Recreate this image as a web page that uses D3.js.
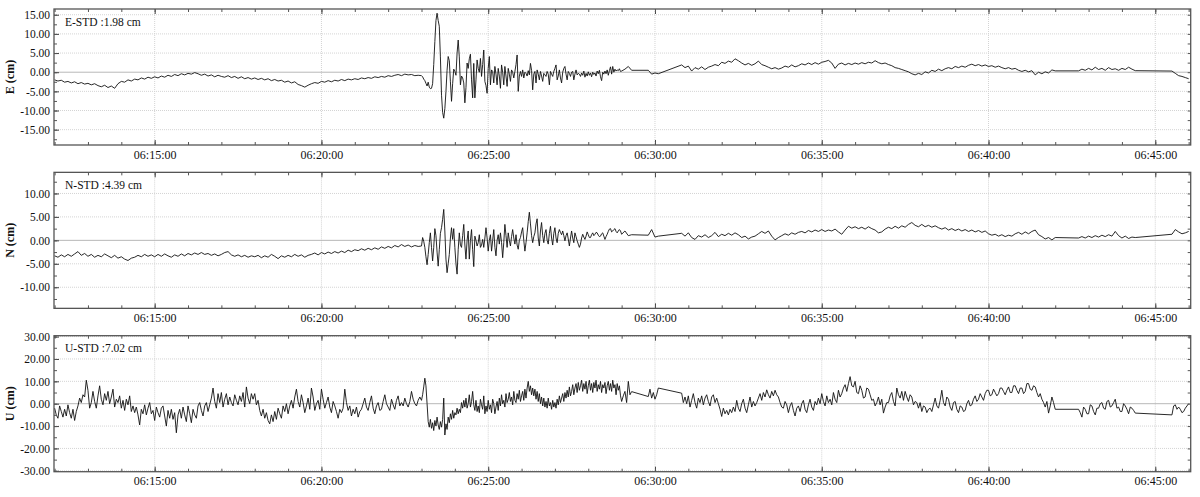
<!DOCTYPE html>
<html>
<head>
<meta charset="utf-8">
<script src="https://cdn.jsdelivr.net/npm/d3@7"></script>
<style>
  html, body { margin: 0; padding: 0; background: #fff; }
  svg text { font-family: "Liberation Serif", "Times New Roman", serif; fill: #111; }
</style>
</head>
<body>
<svg id="chart" width="1200" height="497"></svg>
<script>
// ---------------- DATA ----------------
// every series starts at 06:12:00; sampling blocks given as [step in s, number of samples]
const startClock = [6, 12, 0];
const samplingEN = [[6, 110], [2, 180], [6, 171]];
const samplingU  = [[3, 220], [2, 180], [3, 341]];

const stdLabels = ["E-STD :1.98 cm", "N-STD :4.39 cm", "U-STD :7.02 cm"];
const axisTitles = ["E (cm)", "N (cm)", "U (cm)"];
const yTicksE = [15, 10, 5, 0, -5, -10, -15];
const yTicksN = [10, 5, 0, -5, -10];
const yTicksU = [30, 20, 10, 0, -10, -20, -30];
const yRangeE = [-19, 16.5];
const yRangeN = [-14.5, 14.5];
const yRangeU = [-30.4, 30.4];

// E component (cm), null = missing epoch
const valuesE = [
 -2.0,-2.3,-2.1,-2.6,-2.4,-2.8,-2.5,-3.0,-2.7,-3.1,
 -2.9,-3.3,-3.0,-3.5,-3.8,-3.4,-4.0,-3.6,-4.2,-3.0,
 -2.4,-2.6,-2.0,-2.3,-1.8,-2.0,-1.5,-1.8,-1.3,-1.6,
 -1.2,-1.5,-1.0,-1.3,-0.8,-1.1,-0.6,-0.9,-0.4,-0.7,
 -0.3,-0.5,-0.1,-0.4,-0.8,-0.5,-1.0,-0.7,-1.2,-0.8,
 -1.1,-1.3,-0.9,-1.4,-1.1,-1.6,-1.2,-1.7,-1.4,-1.8,
 -1.5,-1.9,-1.6,-2.0,-1.7,-2.2,-1.9,-2.3,-2.1,-2.6,
 -2.3,-2.8,-2.5,-3.2,-3.5,-3.9,-3.4,-3.0,-2.7,-2.9,
 -2.4,-2.6,-2.2,-2.5,-2.1,-2.3,-1.9,-2.2,-1.8,-2.0,
 -1.7,-1.9,-1.5,-1.7,-1.4,-1.6,-1.2,-1.4,-1.1,-1.3,
 -0.9,-1.1,-0.8,-0.6,-0.9,-0.5,-0.7,-0.6,-0.9,-0.8,
 // 2 s block
 -0.9,-1.2,-1.8,-2.2,-2.9,-3.6,-2.6,-3.9,-4.3,-4.2,
 -3.0,2.0,8.0,13.5,15.4,13.5,12.0,4.0,-6.0,-10.5,
 -12.0,-9.5,-5.0,0.5,4.1,3.0,-2.5,-7.6,-3.0,0.8,
 0.2,-0.8,5.0,8.4,4.0,-3.3,-1.0,-1.5,-2.8,-8.0,
 -4.0,2.4,1.0,3.5,4.7,-2.0,-6.7,2.3,-6.7,-2.0,
 3.2,1.0,0.0,3.6,-1.1,2.0,5.8,-2.4,-3.5,-5.5,
 1.0,4.1,-3.3,0.6,0.2,-2.8,1.5,-0.5,-3.3,1.0,
 -1.0,-4.2,1.9,0.0,-3.3,1.5,-1.0,-3.7,1.0,-0.5,
 -2.4,0.6,0.0,-1.5,0.2,2.0,4.5,-5.0,-1.0,0.2,
 -1.1,0.6,-1.5,0.0,-0.3,-1.0,0.4,-0.7,2.3,0.5,
 -4.6,-0.5,0.2,-2.8,0.6,-0.5,-2.0,0.2,-1.0,-2.4,
 -0.3,-0.7,-1.1,0.2,-0.5,-3.3,0.2,-0.5,-1.1,0.2,
 1.0,1.9,-2.0,-1.0,0.6,-1.5,-2.8,0.0,1.0,1.5,
 -0.5,-2.0,0.2,-0.3,-1.1,0.0,0.2,-2.0,-0.5,0.6,
 -0.7,-0.3,-0.5,-1.1,-0.2,-0.8,0.3,-1.3,-0.3,-1.0,
 0.1,-0.8,-0.2,-1.2,0.0,-0.6,-0.2,-1.0,0.3,-0.4,
 0.5,-1.2,-2.2,0.0,-0.5,0.3,-0.4,0.6,-0.8,0.4,
 1.4,-0.5,1.5,0.0,0.8,0.3,0.6,0.4,0.9,0.2,
 // 6 s block
 0.3,0.8,1.5,0.5,null,null,null,null,0.5,-0.5,
 -0.2,-0.4,null,null,null,null,null,null,1.9,1.2,
 1.6,0.3,1.2,0.8,1.4,0.7,1.3,1.6,2.0,1.7,
 2.6,2.3,2.9,2.6,3.5,3.0,2.4,1.9,2.3,1.8,
 2.2,2.9,2.0,1.7,1.3,0.9,1.2,0.8,1.1,1.6,
 1.3,1.9,1.4,1.7,2.2,1.9,2.4,2.0,2.5,2.1,
 2.6,2.8,3.1,2.4,1.0,2.1,2.4,1.9,2.3,2.0,
 2.4,2.1,2.5,2.2,2.6,2.4,3.0,2.5,2.2,2.4,
 2.0,1.7,1.2,1.0,0.7,0.4,0.1,-0.4,-0.7,-0.3,
 -0.6,0.1,-0.2,0.5,0.2,0.8,0.4,0.9,1.2,0.9,
 1.5,1.2,1.6,1.3,1.8,2.1,1.7,2.0,1.6,1.9,
 1.5,1.7,1.3,1.6,1.2,0.9,1.2,0.8,1.0,0.5,
 0.2,0.5,0.1,0.4,-0.7,0.0,-0.4,0.1,-0.2,0.6,
 0.35,null,null,null,null,null,null,0.35,0.8,0.5,
 1.0,0.6,1.3,0.7,1.0,0.5,1.2,0.7,0.9,0.5,
 1.0,0.7,1.3,0.8,0.4,null,null,null,null,null,
 null,null,null,null,null,0.3,-0.3,-0.9,-1.1,-1.4,
 -1.7
];

// N component (cm)
const valuesN = [
 -3.3,-3.6,-3.1,-3.5,-3.0,-3.4,-2.9,-2.4,-3.2,-2.8,
 -3.4,-3.0,-3.6,-3.2,-3.5,-2.9,-3.3,-3.7,-3.2,-3.8,
 -3.5,-4.0,-4.3,-3.8,-3.6,-3.2,-3.5,-3.0,-3.4,-3.1,
 -3.5,-3.0,-3.4,-2.9,-3.3,-3.6,-3.1,-3.4,-2.9,-3.3,
 -2.8,-3.1,-2.7,-3.0,-2.6,-3.0,-2.8,-3.2,-2.9,-3.3,
 -3.0,-2.6,-2.4,-3.1,-3.4,-3.1,-3.5,-3.2,-3.6,-3.3,
 -3.5,-3.2,-3.7,-3.3,-3.6,-3.0,-3.4,-3.9,-3.3,-3.6,
 -3.2,-3.5,-3.0,-3.4,-3.1,-3.6,-3.2,-3.0,-2.7,-3.1,
 -2.6,-2.9,-2.5,-2.8,-2.4,-2.7,-2.3,-2.6,-2.1,-2.4,
 -2.0,-2.2,-1.8,-2.1,-1.7,-2.0,-1.6,-1.9,-1.4,-1.7,
 -1.3,-1.6,-1.1,-1.4,-0.9,-1.3,-1.0,-1.4,-1.1,-1.3,
 // 2 s block
 -1.2,0.6,-0.2,-1.5,-3.5,-5.2,-3.0,-0.5,1.6,-1.5,
 -4.4,-1.5,2.5,1.0,-2.5,-5.5,-2.0,1.5,2.7,4.5,
 6.6,2.0,-4.0,-6.9,-5.0,-3.0,0.5,2.7,0.2,2.5,
 -1.5,-5.0,-7.2,-2.0,1.6,-1.0,-1.5,1.0,3.4,-1.0,
 -4.0,0.0,2.0,-4.0,0.0,2.3,-2.0,-5.6,0.9,0.0,
 -1.2,-0.5,1.2,-1.5,-1.0,0.2,-1.5,0.5,2.7,0.5,
 -2.3,0.0,1.2,-2.3,0.0,2.3,-1.5,-3.3,0.0,1.2,
 -0.8,1.6,-0.5,-3.7,-0.5,3.4,1.0,-1.5,1.6,0.0,
 -1.2,0.8,2.3,0.5,-0.8,1.2,-1.0,-1.9,0.0,0.6,
 1.8,2.7,0.0,-2.3,-0.5,1.6,4.0,6.0,3.5,1.0,
 -0.5,0.8,1.6,3.5,4.6,0.5,-1.2,2.0,3.8,1.0,
 -0.5,1.5,2.3,0.0,-0.8,1.5,3.0,0.5,-1.0,1.5,
 2.7,0.5,-0.5,1.5,2.3,1.7,1.2,2.0,1.0,-0.1,
 1.0,1.6,0.3,-1.2,0.5,2.0,0.5,-0.5,1.6,0.8,
 -0.1,-0.8,-1.5,-0.8,0.5,1.3,0.7,0.2,0.9,1.8,
 1.2,0.6,0.6,1.2,1.6,1.0,1.3,1.7,1.6,1.1,
 0.8,0.9,1.4,1.6,0.9,0.2,0.8,1.3,1.9,2.4,
 2.5,1.8,2.0,2.3,2.5,1.9,1.6,2.0,2.3,2.0,
 // 6 s block
 1.3,2.0,1.0,1.2,null,null,null,null,1.1,2.3,
 0.7,0.9,null,null,null,null,null,null,1.5,0.9,
 1.6,0.6,0.2,1.0,0.7,1.2,0.6,1.0,1.7,0.8,
 1.3,1.0,1.5,1.1,1.6,1.2,0.6,0.9,0.3,0.7,
 0.9,1.4,1.9,1.5,2.0,0.9,0.1,0.6,1.0,1.4,
 1.1,1.6,1.3,1.7,1.9,1.6,2.1,1.8,2.2,1.9,
 2.3,1.9,2.2,2.0,2.4,1.8,1.3,2.2,3.0,2.6,
 2.9,2.5,2.8,2.4,2.9,2.5,2.2,1.6,1.8,2.4,
 2.8,2.5,3.0,2.6,3.1,2.8,3.4,3.8,3.2,2.9,
 3.4,2.9,3.2,2.8,3.1,2.7,2.4,2.7,2.2,2.5,
 2.1,2.4,2.0,2.3,1.9,2.2,1.8,2.1,1.7,2.0,
 1.4,1.1,1.3,0.9,1.2,0.8,1.1,0.9,1.4,1.7,
 1.3,1.8,1.4,1.9,2.2,1.2,0.8,0.3,0.6,0.1,
 0.6,null,null,null,null,null,null,0.5,0.8,0.5,
 0.9,0.6,1.0,0.7,1.1,0.8,1.2,0.9,1.9,1.0,
 0.5,0.9,0.4,0.7,0.6,null,null,null,null,null,
 null,null,null,null,null,1.3,2.3,1.8,1.4,1.6,
 1.9
];

// U component (cm)
const valuesU = [
 // 3 s block
 -2.0,-5.0,-6.5,-1.0,-3.5,-6.0,-2.5,-5.5,-0.5,-4.0,
 -6.5,-2.5,-7.5,-3.5,-1.0,2.5,0.5,4.0,3.0,10.5,
 6.0,-2.0,0.5,5.5,1.0,-2.0,3.5,8.0,2.0,-0.5,
 4.5,1.5,5.5,0.0,3.0,6.5,-1.5,2.0,0.5,3.5,
 -2.0,1.5,-3.0,2.0,-0.5,3.5,-3.5,-1.0,-4.0,-1.5,
 -5.0,-9.5,-2.5,-4.5,-0.5,-5.0,-2.0,0.5,-4.5,-3.0,
 -7.5,-1.5,-4.0,-6.0,-2.0,-1.0,-5.5,-10.0,-3.0,-6.5,
 -2.5,-7.0,-4.0,-13.0,-5.0,-2.5,-6.5,-1.5,-5.0,-8.0,
 -1.0,-4.5,-8.5,-2.5,-5.0,-6.5,-1.0,0.5,-3.0,-5.5,
 -1.0,0.5,-3.5,-0.5,2.5,7.0,1.0,-2.0,4.5,0.5,
 5.0,-1.5,2.0,4.5,-0.5,3.0,0.5,-1.0,4.0,1.5,
 -0.5,3.5,1.0,5.0,-1.5,7.5,2.5,0.0,4.5,2.0,
 4.5,-0.5,1.5,-3.0,-5.5,-2.5,-6.5,-4.0,-7.5,-9.0,
 -5.0,-8.0,-3.5,-7.0,-2.0,-4.5,-6.5,-1.0,-3.5,0.0,
 -4.5,-1.0,1.5,-2.0,3.0,6.5,1.0,-1.5,4.0,0.5,
 -4.0,-1.0,2.5,-2.5,7.0,3.0,-3.0,0.0,1.5,-2.5,
 6.5,2.0,-2.0,0.5,3.0,-1.5,-4.0,1.0,-1.0,-3.5,
 -6.5,-2.5,-4.0,-2.0,6.5,0.5,-3.0,-1.0,-5.5,-2.5,
 -4.5,-1.5,-6.0,-3.5,-2.5,0.0,2.5,-1.5,-3.0,0.5,
 3.5,-2.0,-4.5,-1.0,0.5,-3.0,-2.5,1.0,4.0,0.0,
 -1.5,-3.0,2.0,-0.5,-2.5,1.5,3.5,-1.0,0.5,-1.0,
 2.5,0.0,-1.5,1.0,5.5,2.0,0.0,-1.0,1.5,3.0,
 // 2 s block
 1.5,4.0,7.5,11.4,8.0,0.0,-8.0,-10.5,-7.0,-11.0,
 -8.5,-12.0,-7.5,-10.0,-6.0,-9.5,-11.5,-8.0,-10.5,-7.0,
 2.5,-14.0,-9.0,-11.5,-6.0,-8.5,-4.5,-7.0,-3.0,-6.5,
 -4.0,-5.0,-2.0,-4.5,-2.5,-4.0,0.5,-2.0,1.5,-1.5,
 2.5,-2.0,0.0,4.0,-1.5,1.0,5.5,-0.5,-3.0,1.5,
 -3.5,-1.0,-4.0,2.0,-0.5,-2.5,3.5,-4.5,-1.0,-3.5,
 1.5,-2.5,-0.5,-4.0,2.0,0.0,-4.5,-1.5,1.0,-3.0,
 2.5,-1.0,4.0,0.0,1.5,-1.5,4.5,0.5,2.0,5.0,
 1.0,3.0,-0.5,5.5,1.5,0.5,4.5,2.0,6.0,1.0,
 3.5,5.5,1.5,6.5,2.5,7.0,10.0,5.5,8.0,4.0,
 7.0,3.5,6.5,2.0,5.5,1.0,4.5,0.0,3.0,-1.0,
 2.5,-1.5,1.0,-2.0,2.5,-1.0,0.5,-2.5,1.5,-1.5,
 0.5,-2.0,2.0,-0.5,3.5,0.5,2.5,4.5,1.0,5.0,
 2.5,6.0,3.0,7.5,3.5,5.5,8.5,4.0,7.0,9.0,
 5.0,9.5,6.0,8.0,10.5,5.5,9.0,6.5,10.0,4.5,
 8.0,10.5,6.0,9.0,5.0,9.5,7.0,10.5,5.5,8.5,
 6.5,10.0,5.0,8.5,7.0,9.5,4.5,8.0,10.0,6.0,
 9.0,5.5,10.5,7.0,8.5,4.0,9.0,6.0,8.0,3.5,
 // 3 s block
 1.0,3.5,5.5,0.5,10.0,4.0,5.4,null,null,null,
 null,null,null,null,null,null,3.2,6.5,2.5,5.0,
 2.0,4.0,7.0,null,null,null,null,null,null,null,
 null,null,null,null,null,null,4.7,0.5,3.0,0.0,
 3.5,-1.5,1.5,4.5,0.5,-2.0,2.5,0.5,3.5,-0.5,
 2.5,4.0,1.0,-1.0,3.0,4.0,0.5,2.5,0.0,-2.5,
 -5.7,-2.0,-4.5,-3.0,-5.0,-2.5,-4.0,-1.5,-3.5,1.5,
 -2.0,-3.5,0.0,2.0,-2.0,-4.0,-0.5,3.0,-1.5,1.0,
 -1.0,0.5,2.5,4.5,1.5,5.0,3.0,6.2,4.0,2.5,
 5.5,3.5,6.0,4.0,3.0,0.5,-1.5,-2.0,1.0,-0.5,
 -4.0,-1.0,0.5,-3.0,-5.5,-2.0,-1.0,-3.5,0.0,1.5,
 -2.5,-4.0,-0.5,2.0,-1.5,-3.0,1.0,-0.5,2.5,0.0,
 4.5,1.0,-1.0,3.5,0.5,2.0,-0.5,5.0,2.0,0.5,
 6.0,3.0,4.5,7.0,8.5,5.5,9.0,12.1,8.0,7.5,
 10.0,5.0,4.5,8.0,6.0,2.5,3.0,7.0,6.5,4.0,
 1.5,2.0,-1.0,0.5,3.0,-0.5,2.0,-4.2,-1.5,0.5,
 0.5,3.5,5.0,1.0,-1.0,7.0,4.0,2.5,5.5,1.5,
 5.5,3.0,1.0,4.0,3.0,-0.5,1.0,0.5,-2.0,0.5,
 -3.5,-1.0,-1.5,-4.0,-2.5,-2.0,-3.5,-0.5,2.5,-1.0,
 -2.0,1.5,6.0,0.5,-1.0,3.0,2.0,-1.5,-3.0,0.5,
 1.0,-2.5,-4.0,-1.0,-1.5,-3.5,-3.0,0.0,1.5,-1.0,
 -0.5,2.0,3.5,1.0,2.0,4.5,3.0,1.5,4.5,6.0,
 6.0,3.5,4.0,6.5,5.0,3.5,4.5,7.0,7.0,5.5,
 4.0,6.0,7.5,5.0,5.0,8.0,8.0,6.0,4.5,7.0,
 7.0,4.5,5.5,9.0,9.0,6.5,6.0,8.0,7.5,5.0,
 3.0,4.5,2.0,0.5,-1.5,1.0,-4.2,-1.0,3.0,0.5,
 -2.5,null,null,null,null,null,null,null,null,null,
 null,null,null,null,-2.5,-4.0,-6.0,-1.5,-2.5,-4.5,
 -4.5,-0.5,-1.0,-3.5,-5.0,-2.0,-2.0,0.0,0.5,-2.0,
 -2.5,1.0,1.5,-1.5,-1.0,0.5,2.0,-2.0,-1.5,-3.5,
 -3.5,0.0,-1.0,-2.5,-4.5,-1.5,-2.0,-3.0,-4.2,null,
 null,null,null,null,null,null,null,null,null,null,
 null,null,null,null,null,null,null,null,null,null,
 -5.0,-1.0,-0.5,-2.5,-1.5,-2.5,-4.0,-3.5,-2.0,-1.0,
 0.0
];

// ---------------- BUILD ----------------
const base = new Date(2000, 0, 1, startClock[0], startClock[1], startClock[2]);
function buildTimes(blocks) {
  const out = [];
  let t = 0;
  blocks.forEach(([step, count]) => {
    for (let i = 0; i < count; i++) { out.push(new Date(base.getTime() + t * 1000)); t += step; }
  });
  return out;
}

const svg = d3.select("#chart");
const left = 54, right = 1190.7;
const panelH = 136, panelTop0 = 9, panelGap = 163.35;

const x = d3.scaleTime()
  .domain([new Date(base.getTime() - 1100), new Date(base.getTime() + 2043700)])
  .range([left, right]);

const panels = [
  { values: valuesE, times: buildTimes(samplingEN), ticks: yTicksE, range: yRangeE, minor: 2.5 },
  { values: valuesN, times: buildTimes(samplingEN), ticks: yTicksN, range: yRangeN, minor: 2.5 },
  { values: valuesU, times: buildTimes(samplingU), ticks: yTicksU, range: yRangeU, minor: 5 }
];

const fmt = v => v.toFixed(2);
const fontStack = '"Liberation Serif", "Times New Roman", serif';

panels.forEach((p, i) => {
  const top = panelTop0 + i * panelGap;
  const bottom = top + panelH;
  const y = d3.scaleLinear().domain(p.range).range([bottom, top]);
  const g = svg.append("g");

  // grid
  const majorTimes = x.ticks(d3.timeMinute.every(5));
  g.append("g").selectAll("line").data(majorTimes).join("line")
    .attr("x1", d => x(d)).attr("x2", d => x(d))
    .attr("y1", top).attr("y2", bottom)
    .attr("stroke", "#d4d4d4").attr("stroke-width", 1).attr("stroke-dasharray", "1,1");
  g.append("g").selectAll("line").data(p.ticks.filter(v => v !== 0)).join("line")
    .attr("x1", left).attr("x2", right)
    .attr("y1", d => y(d)).attr("y2", d => y(d))
    .attr("stroke", "#d4d4d4").attr("stroke-width", 1).attr("stroke-dasharray", "1,1");
  g.append("line")
    .attr("x1", left).attr("x2", right).attr("y1", y(0)).attr("y2", y(0))
    .attr("stroke", "#b8b8b8").attr("stroke-width", 1);

  // data line
  const pts = p.times.map((t, k) => ({ t, v: p.values[k] })).filter(d => d.v !== null && d.v !== undefined);
  g.append("path").datum(pts)
    .attr("fill", "none").attr("stroke", "#111").attr("stroke-width", 0.9)
    .attr("stroke-linejoin", "round")
    .attr("d", d3.line().x(d => x(d.t)).y(d => y(d.v)));

  // axes
  const bottomAxis = d3.axisBottom(x).ticks(d3.timeMinute.every(5))
    .tickFormat(d3.timeFormat("%H:%M:%S")).tickSize(-5).tickPadding(5);
  const ga = g.append("g").attr("transform", `translate(0,${bottom})`).call(bottomAxis);
  ga.select(".domain").remove();
  ga.selectAll("text").attr("font-size", 12).attr("font-family", fontStack).attr("fill", "#111");
  ga.selectAll("line").attr("stroke", "#444");

  const minorB = d3.axisBottom(x).ticks(d3.timeMinute.every(1)).tickFormat("").tickSize(-3);
  const gm = g.append("g").attr("transform", `translate(0,${bottom})`).call(minorB);
  gm.select(".domain").remove(); gm.selectAll("line").attr("stroke", "#555");

  const topAxis = d3.axisTop(x).ticks(d3.timeMinute.every(5)).tickFormat("").tickSize(-5);
  const gt = g.append("g").attr("transform", `translate(0,${top})`).call(topAxis);
  gt.select(".domain").remove(); gt.selectAll("line").attr("stroke", "#444");
  const minorT = d3.axisTop(x).ticks(d3.timeMinute.every(1)).tickFormat("").tickSize(-3);
  const gmt = g.append("g").attr("transform", `translate(0,${top})`).call(minorT);
  gmt.select(".domain").remove(); gmt.selectAll("line").attr("stroke", "#555");

  const leftAxis = d3.axisLeft(y).tickValues(p.ticks).tickFormat(fmt).tickSize(-5).tickPadding(4);
  const gl = g.append("g").attr("transform", `translate(${left},0)`).call(leftAxis);
  gl.select(".domain").remove();
  gl.selectAll("text").attr("font-size", 11.5).attr("font-family", fontStack).attr("fill", "#111");
  gl.selectAll("line").attr("stroke", "#444");

  const minorVals = d3.range(Math.ceil(p.range[0] / p.minor) * p.minor, p.range[1] + 1e-9, p.minor);
  const minorL = d3.axisLeft(y).tickValues(minorVals).tickFormat("").tickSize(-3);
  const gml = g.append("g").attr("transform", `translate(${left},0)`).call(minorL);
  gml.select(".domain").remove(); gml.selectAll("line").attr("stroke", "#555");
  const rightAxis = d3.axisRight(y).tickValues(minorVals).tickFormat("").tickSize(-3);
  const gr = g.append("g").attr("transform", `translate(${right},0)`).call(rightAxis);
  gr.select(".domain").remove(); gr.selectAll("line").attr("stroke", "#555");

  // frame
  g.append("rect").attr("x", left).attr("y", top).attr("width", right - left).attr("height", panelH)
    .attr("fill", "none").attr("stroke", "#555").attr("stroke-width", 1.3);

  // texts
  g.append("text").attr("x", left + 11).attr("y", top + 16.5)
    .attr("font-size", 11.5).text(stdLabels[i]);
  g.append("text")
    .attr("transform", `translate(13.5,${(top + bottom) / 2}) rotate(-90)`)
    .attr("text-anchor", "middle").attr("font-size", 12).attr("font-weight", "bold")
    .text(axisTitles[i]);
});
</script>
</body>
</html>
